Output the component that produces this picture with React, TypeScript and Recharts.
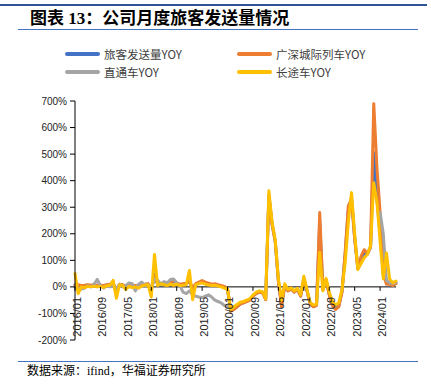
import { LineChart, Line, XAxis, YAxis, ReferenceLine } from "recharts";

const months = [
  "2016/01", "2016/02", "2016/03", "2016/04", "2016/05", "2016/06", "2016/07", "2016/08", "2016/09", "2016/10", "2016/11", "2016/12",
  "2017/01", "2017/02", "2017/03", "2017/04", "2017/05", "2017/06", "2017/07", "2017/08", "2017/09", "2017/10", "2017/11", "2017/12",
  "2018/01", "2018/02", "2018/03", "2018/04", "2018/05", "2018/06", "2018/07", "2018/08", "2018/09", "2018/10", "2018/11", "2018/12",
  "2019/01", "2019/02", "2019/03", "2019/04", "2019/05", "2019/06", "2019/07", "2019/08", "2019/09", "2019/10", "2019/11", "2019/12",
  "2020/01", "2020/02", "2020/03", "2020/04", "2020/05", "2020/06", "2020/07", "2020/08", "2020/09", "2020/10", "2020/11", "2020/12",
  "2021/01", "2021/02", "2021/03", "2021/04", "2021/05", "2021/06", "2021/07", "2021/08", "2021/09", "2021/10", "2021/11", "2021/12",
  "2022/01", "2022/02", "2022/03", "2022/04", "2022/05", "2022/06", "2022/07", "2022/08", "2022/09", "2022/10", "2022/11", "2022/12",
  "2023/01", "2023/02", "2023/03", "2023/04", "2023/05", "2023/06", "2023/07", "2023/08", "2023/09", "2023/10", "2023/11", "2023/12",
  "2024/01", "2024/02", "2024/03", "2024/04", "2024/05", "2024/06",
];

// 旅客发送量YOY (%)
const totalYoy = [
  8, 2, 4, 4, 6, 4, 7, 6, 5, 3, 7, 9,
  16, -22, 9, 7, 1, 5, 3, 3, 2, 5, 9, 11,
  -14, 48, 9, 13, 11, 9, 13, 20, 13, 8, 9, 11,
  25, -12, 9, 14, 19, 14, 11, 8, 9, 5, 3, 0,
  -10, -90, -83, -74, -64, -59, -54, -49, -34, -24, -19, -21,
  -47, 345, 238, 172, 22, -70, 6, -14, -7, -19, -9, -34,
  32, -14, -64, -74, -69, 240, -11, 26, -28, -67, -82, -72,
  -18, 120, 290, 335, 185, 68, 102, 126, 123, 150, 505, 330,
  200, 50, 18, 12, 8, 15,
];

// 广深城际列车YOY (%)
const intercityYoy = [
  5, 8, 5, 6, 8, 6, 8, 5, 6, 5, 8, 10,
  15, -20, 10, 8, 3, 6, 4, 5, 3, 6, 10, 12,
  -10, 40, 10, 14, 12, 10, 14, 25, 15, 10, 12, 14,
  20, -5, 12, 18, 24, 18, 14, 10, 12, 8, 5, 2,
  -10, -92, -85, -75, -65, -60, -55, -50, -35, -25, -20, -22,
  -48, 340, 235, 170, 20, -75, 5, -15, -8, -20, -10, -35,
  30, -15, -65, -75, -70, 280, -10, 25, -30, -70, -85, -75,
  -20, 130, 305, 330, 180, 70, 115, 140, 125, 150, 690, 450,
  280, 50, 10, 10, 5, 12,
];

// 直通车YOY (%)
const throughYoy = [
  0, -5, -8, -5, 5, 0, 10, 28, 5, -5, 5, 0,
  10, -10, 10, 0, 5, 15, 12, -15, 10, 18, 5, 8,
  -5, 30, 25, 10, 20, 15, 28, 30, 15, 5, -20, -25,
  -15, -30, -35, -38, -40, -35, -30, -38, -50, -55, -60, -70,
  -75, null, null, null, null, null, null, null, null, null, null, null,
  null, null, null, null, null, null, null, null, null, null, null, null,
  null, null, null, null, null, null, null, null, null, null, null, null,
  null, null, null, null, null, null, null, null, null, null, null, null,
  280, 200, 25, 15, 12, 18,
];

// 长途车YOY (%)
const coachYoy = [
  50, -25, 0, -3, 2, 0, 3, 0, 2, -2, 4, 6,
  25, -43, 8, 5, -10, 2, -3, 0, -5, 3, 7, 8,
  -38, 122, 5, 12, 8, 5, 10, 6, 10, 5, 6, 8,
  62, -48, 8, 12, 15, 10, 7, 5, 6, 3, 0, -5,
  -8, -86, -75, -66, -58, -55, -50, -45, -30, -20, -15, -18,
  -45, 362, 245, 178, 30, -50, 12, -10, -3, -15, -5, -30,
  40, -10, -58, -68, -65, 130, -15, 32, -20, -55, -68, -60,
  -10, 90, 245, 355, 200, 65, 88, 110, 122, 155, 392, 320,
  170, 30, 128, 30, 15, 22,
];

const yTicks = [-200, -100, 0, 100, 200, 300, 400, 500, 600, 700];

const data = months.map((m, i) => ({
  month: m,
  total: totalYoy[i],
  intercity: intercityYoy[i],
  through: throughYoy[i],
  coach: coachYoy[i],
}));

const series = [
  { key: "total", name: "旅客发送量YOY", color: "#4472C4" },
  { key: "intercity", name: "广深城际列车YOY", color: "#ED7D31" },
  { key: "through", name: "直通车YOY", color: "#A5A5A5" },
  { key: "coach", name: "长途车YOY", color: "#FFC000" },
];

const W = 431;
const H = 390;
const M = { top: 101, right: 35, bottom: 49, left: 15 };
const X_AXIS_H = 1;
const plotH = H - M.top - M.bottom - X_AXIS_H;
// x axis sits on the 0% line, 200 of 900 units above the bottom
const zeroShift = (plotH * 200) / 900;

const axisFont = '"Liberation Sans", Arial, sans-serif';
const titleFont = '"Liberation Serif", "Noto Sans CJK SC", serif';
const legendFont = '"Noto Sans CJK SC", "Liberation Sans", sans-serif';

const XTick = (props: any) => {
  const { x, y, payload } = props;
  return (
    <g transform={`translate(${x},${y - zeroShift})`}>
      <line x1={0} x2={0} y1={0} y2={4} stroke="#000" />
      <text
        transform="rotate(-90)"
        x={-10}
        y={2}
        dy="0.35em"
        textAnchor="end"
        fontSize={11}
        fontFamily={axisFont}
        fill="#222"
      >
        {payload.value}
      </text>
    </g>
  );
};

const legendRows = [
  [series[0], series[1]],
  [series[2], series[3]],
];

export default function App() {
  return (
    <div style={{ position: "absolute", left: 0, top: 0, width: W, height: H, background: "#fff" }}>
      <div style={{ position: "absolute", left: 0, top: 4, width: 427, height: 2, background: "#2F5597" }} />
      <div
        style={{
          position: "absolute",
          left: 30,
          top: 8,
          fontFamily: titleFont,
          fontWeight: 700,
          fontSize: 17,
          lineHeight: "22px",
          color: "#000",
          whiteSpace: "nowrap",
        }}
      >
        图表 13：公司月度旅客发送量情况
      </div>
      <div style={{ position: "absolute", left: 18, top: 29, width: 400, height: 1, background: "#4472C4" }} />

      {legendRows.map((row, r) => (
        <div key={r}>
          {row.map((s, c) => (
            <div
              key={s.key}
              style={{
                position: "absolute",
                left: c === 0 ? 65 : 237,
                top: r === 0 ? 45 : 63,
                height: 17,
                display: "flex",
                alignItems: "center",
                whiteSpace: "nowrap",
              }}
            >
              <span style={{ display: "inline-block", width: 35, height: 4, borderRadius: 2, background: s.color }} />
              <span style={{ marginLeft: 4, fontFamily: legendFont, fontSize: 11.5, color: "#404040" }}>{s.name}</span>
            </div>
          ))}
        </div>
      ))}

      <div style={{ position: "absolute", left: 0, top: 0 }}>
        <LineChart width={W} height={H} data={data} margin={M}>
          <ReferenceLine y={0} stroke="#000" strokeWidth={1} />
          <XAxis
            dataKey="month"
            interval={7}
            height={X_AXIS_H}
            axisLine={false}
            tickLine={false}
            tickSize={0}
            tickMargin={0}
            tick={(p: any) => <XTick {...p} />}
          />
          <YAxis
            type="number"
            domain={[-200, 700]}
            ticks={yTicks}
            width={60}
            tickFormatter={(v: number) => `${v}%`}
            axisLine={{ stroke: "#000" }}
            tickLine={{ stroke: "#000" }}
            tickSize={5}
            tickMargin={3}
            tick={{ fontSize: 10, fontFamily: axisFont, fill: "#222" }}
          />
          {series.map((s) => (
            <Line
              key={s.key}
              type="linear"
              dataKey={s.key}
              name={s.name}
              stroke={s.color}
              strokeWidth={3}
              strokeLinejoin="round"
              strokeLinecap="round"
              dot={false}
              activeDot={false}
              isAnimationActive={false}
            />
          ))}
        </LineChart>
      </div>

      <div style={{ position: "absolute", left: 18, top: 361, width: 400, height: 1, background: "#4472C4" }} />
      <div
        style={{
          position: "absolute",
          left: 27,
          top: 363,
          fontFamily: titleFont,
          fontSize: 12,
          lineHeight: "16px",
          color: "#000",
          whiteSpace: "nowrap",
        }}
      >
        数据来源：ifind，华福证券研究所
      </div>
    </div>
  );
}
